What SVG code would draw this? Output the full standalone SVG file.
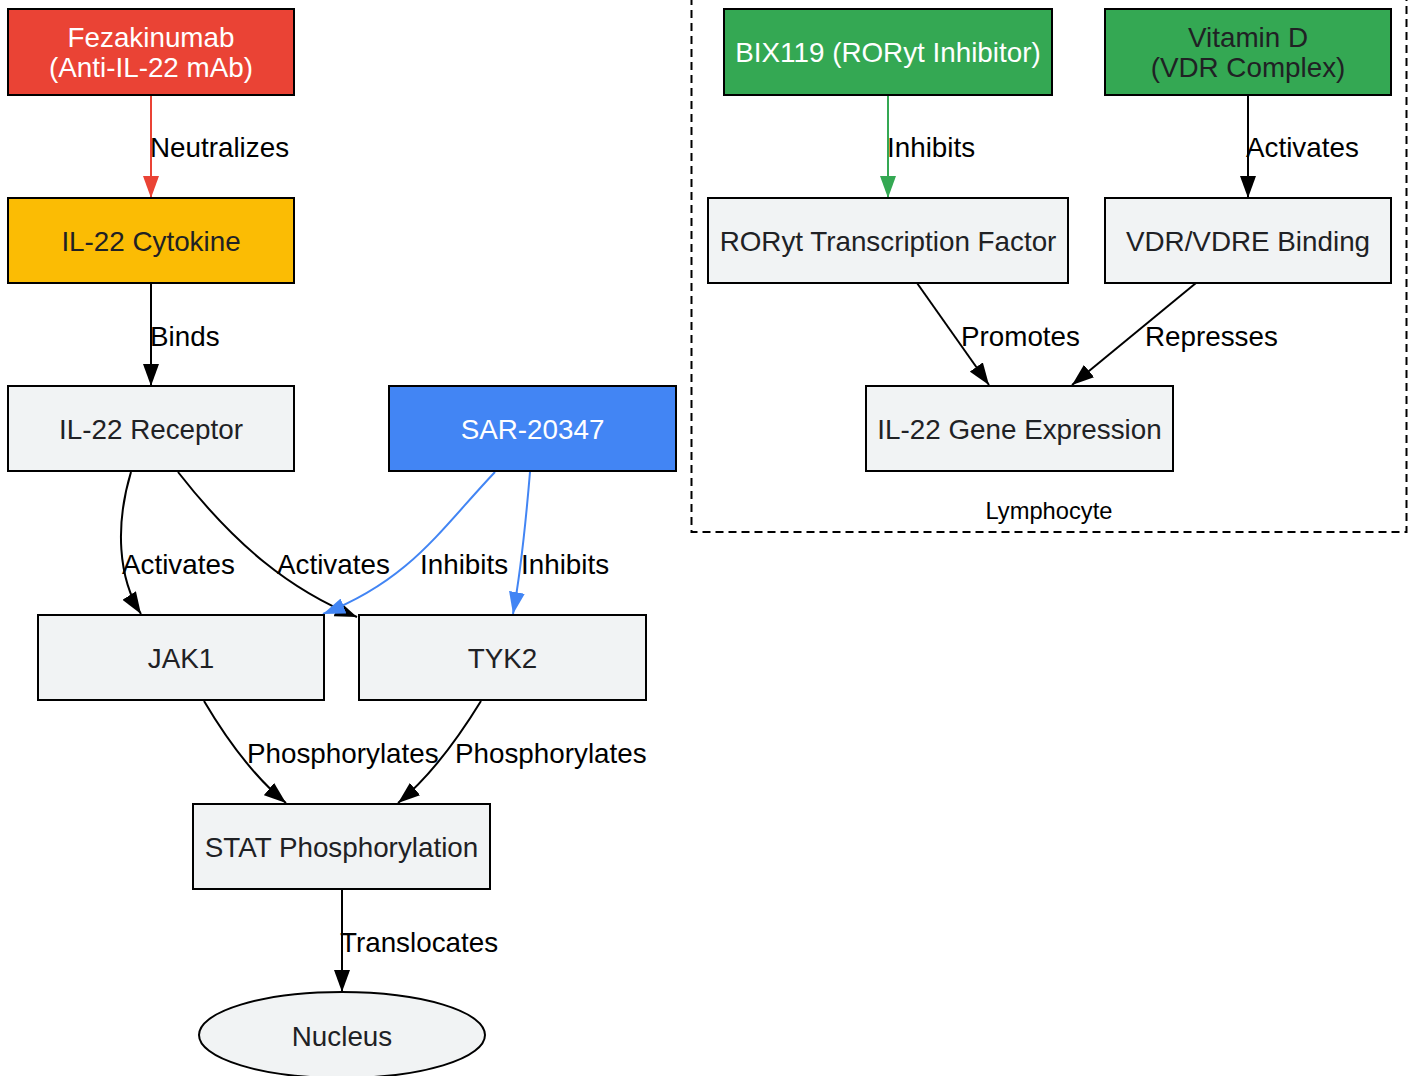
<svg xmlns="http://www.w3.org/2000/svg" width="1413" height="1076" viewBox="0 0 1413 1076">
<style>
  .node rect, .node ellipse { stroke: #000000; stroke-width: 2; }
  .gray { fill: #F1F3F4; }
  .red { fill: #EA4335; }
  .yellow { fill: #FBBC04; }
  .blue { fill: #4285F4; }
  .green { fill: #34A853; }
  text { font-family: "Liberation Sans", Arial, sans-serif; font-size: 27.8px; }
  .nt { text-anchor: middle; fill: #202124; }
  .wt { text-anchor: middle; fill: #FFFFFF; }
  .el { fill: #000000; }
  .edge { fill: none; stroke-width: 2; }
  .k { stroke: #000000; }
  .r { stroke: #EA4335; }
  .b { stroke: #4285F4; }
  .g { stroke: #34A853; }
  .cluster { fill: none; stroke: #000000; stroke-width: 2; stroke-dasharray: 8 5; }
  .clabel { font-size: 23.7px; text-anchor: middle; fill: #000000; }
</style>
<defs>
  <marker id="ak" viewBox="0 0 10 10" refX="10" refY="5" markerUnits="userSpaceOnUse" markerWidth="22" markerHeight="16" orient="auto" preserveAspectRatio="none"><path d="M0,0 L10,5 L0,10 z" fill="#000000"/></marker>
  <marker id="ar" viewBox="0 0 10 10" refX="10" refY="5" markerUnits="userSpaceOnUse" markerWidth="22" markerHeight="16" orient="auto" preserveAspectRatio="none"><path d="M0,0 L10,5 L0,10 z" fill="#EA4335"/></marker>
  <marker id="ab" viewBox="0 0 10 10" refX="10" refY="5" markerUnits="userSpaceOnUse" markerWidth="22" markerHeight="16" orient="auto" preserveAspectRatio="none"><path d="M0,0 L10,5 L0,10 z" fill="#4285F4"/></marker>
  <marker id="ag" viewBox="0 0 10 10" refX="10" refY="5" markerUnits="userSpaceOnUse" markerWidth="22" markerHeight="16" orient="auto" preserveAspectRatio="none"><path d="M0,0 L10,5 L0,10 z" fill="#34A853"/></marker>
</defs>
<rect width="1413" height="1076" fill="#FFFFFF"/>

<g id="cluster-lymphocyte">
  <rect class="cluster" x="691.5" y="-20" width="715" height="552"/>
  <text class="clabel" x="1049" y="519">Lymphocyte</text>
</g>

<g id="connectors">
  <path class="edge r" d="M151,95 L151,198" marker-end="url(#ar)"/>
  <path class="edge k" d="M151,283 L151,386" marker-end="url(#ak)"/>
  <path class="edge k" d="M131,472 C115,525 118,578 141,614" marker-end="url(#ak)"/>
  <path class="edge k" d="M178,472 C235,545 290,590 357,617" marker-end="url(#ak)"/>
  <path class="edge b" d="M495,472 C440,530 410,580 323,614" marker-end="url(#ab)"/>
  <path class="edge b" d="M530,472 C526,520 521,570 513,614" marker-end="url(#ab)"/>
  <path class="edge k" d="M204,701 C230,745 258,780 286,803" marker-end="url(#ak)"/>
  <path class="edge k" d="M481,701 C454,745 426,780 398,803" marker-end="url(#ak)"/>
  <path class="edge k" d="M342,889 L342,992" marker-end="url(#ak)"/>
  <path class="edge g" d="M888,95 L888,198" marker-end="url(#ag)"/>
  <path class="edge k" d="M1248,95 L1248,198" marker-end="url(#ak)"/>
  <path class="edge k" d="M917,283 L989,385" marker-end="url(#ak)"/>
  <path class="edge k" d="M1196,283 L1072,385" marker-end="url(#ak)"/>

  <text class="el" x="150" y="157">Neutralizes</text>
  <text class="el" x="150" y="346">Binds</text>
  <text class="el" x="122" y="574">Activates</text>
  <text class="el" x="277" y="574">Activates</text>
  <text class="el" x="420" y="574">Inhibits</text>
  <text class="el" x="521" y="574">Inhibits</text>
  <text class="el" x="247" y="763">Phosphorylates</text>
  <text class="el" x="455" y="763">Phosphorylates</text>
  <text class="el" x="340" y="952">Translocates</text>
  <text class="el" x="887" y="157">Inhibits</text>
  <text class="el" x="1246" y="157">Activates</text>
  <text class="el" x="961" y="346">Promotes</text>
  <text class="el" x="1145" y="346">Represses</text>
</g>

<g id="fezakinumab" class="node">
  <rect class="red" x="8" y="9" width="286" height="86"/>
  <text class="wt" x="151" y="47">Fezakinumab</text>
  <text class="wt" x="151" y="77">(Anti-IL-22 mAb)</text>
</g>
<g id="il22-cytokine" class="node">
  <rect class="yellow" x="8" y="198" width="286" height="85"/>
  <text class="nt" x="151" y="251">IL-22 Cytokine</text>
</g>
<g id="il22-receptor" class="node">
  <rect class="gray" x="8" y="386" width="286" height="85"/>
  <text class="nt" x="151" y="439">IL-22 Receptor</text>
</g>
<g id="sar20347" class="node">
  <rect class="blue" x="389" y="386" width="287" height="85"/>
  <text class="wt" x="532.5" y="439">SAR-20347</text>
</g>
<g id="jak1" class="node">
  <rect class="gray" x="38" y="615" width="286" height="85"/>
  <text class="nt" x="181" y="668">JAK1</text>
</g>
<g id="tyk2" class="node">
  <rect class="gray" x="359" y="615" width="287" height="85"/>
  <text class="nt" x="502.5" y="668">TYK2</text>
</g>
<g id="stat" class="node">
  <rect class="gray" x="193" y="804" width="297" height="85"/>
  <text class="nt" x="341.5" y="857">STAT Phosphorylation</text>
</g>
<g id="nucleus" class="node">
  <ellipse class="gray" cx="342" cy="1035" rx="143" ry="43"/>
  <text class="nt" x="342" y="1046">Nucleus</text>
</g>
<g id="bix119" class="node">
  <rect class="green" x="724" y="9" width="328" height="86"/>
  <text class="wt" x="888" y="62">BIX119 (RORyt Inhibitor)</text>
</g>
<g id="vitamin-d" class="node">
  <rect class="green" x="1105" y="9" width="286" height="86"/>
  <text class="nt" x="1248" y="47">Vitamin D</text>
  <text class="nt" x="1248" y="77">(VDR Complex)</text>
</g>
<g id="roryt" class="node">
  <rect class="gray" x="708" y="198" width="360" height="85"/>
  <text class="nt" x="888" y="251">RORyt Transcription Factor</text>
</g>
<g id="vdr-vdre" class="node">
  <rect class="gray" x="1105" y="198" width="286" height="85"/>
  <text class="nt" x="1248" y="251">VDR/VDRE Binding</text>
</g>
<g id="il22-gene" class="node">
  <rect class="gray" x="866" y="386" width="307" height="85"/>
  <text class="nt" x="1019.5" y="439">IL-22 Gene Expression</text>
</g>
</svg>
